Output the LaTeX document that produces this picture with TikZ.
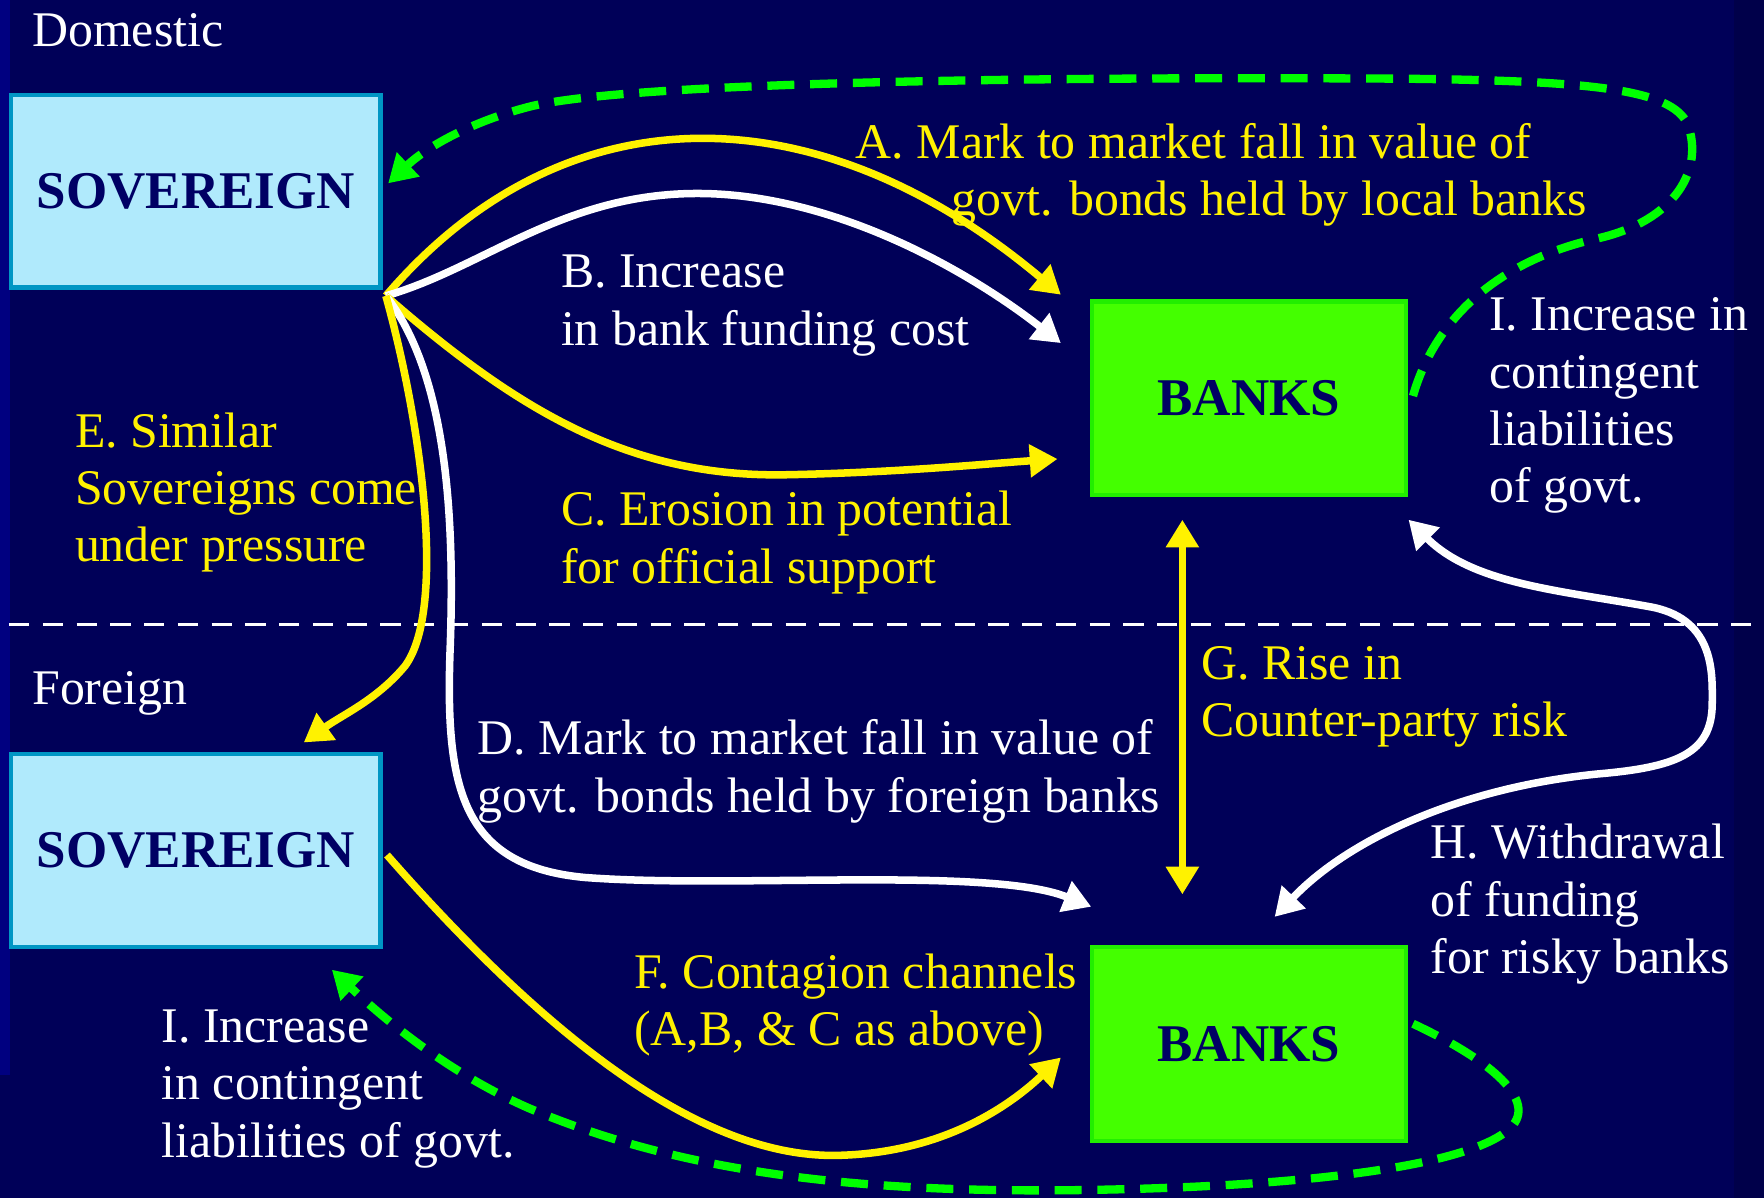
\documentclass[tikz,border=0pt]{standalone}
\usepackage{fontspec}
\setmainfont{Liberation Serif}
\usepackage{tikz}
\usetikzlibrary{arrows.meta}
\definecolor{slide}{RGB}{0,0,88}
\definecolor{slideleft}{RGB}{0,0,128}
\definecolor{slideright}{RGB}{0,0,74}
\definecolor{skyfill}{RGB}{176,234,252}
\definecolor{skyline}{RGB}{0,150,196}
\definecolor{grassfill}{RGB}{68,255,0}
\definecolor{grassline}{RGB}{34,238,0}
\definecolor{liability}{RGB}{0,255,0}
\definecolor{boxtext}{RGB}{0,0,100}
\colorlet{note}{yellow}
\tikzset{
  % node options
  box/.style={rectangle,draw,line width=1.1pt,text=boxtext,
    font=\fontsize{13.4}{15}\selectfont\bfseries},
  sovereign/.style={box,fill=skyfill,draw=skyline,minimum width=3.28cm,minimum height=1.71cm},
  banks/.style={box,fill=grassfill,draw=grassline,minimum width=2.79cm,minimum height=1.72cm},
  txt/.style={anchor=north west,inner sep=0,align=left,text=white,
    font=\fontsize{12.6}{14.5}\selectfont},
  txtNote/.style={txt,text=note},
  % path options
  tip/.style={-{Triangle[length=7pt,width=8pt]}},
  flow/.style={tip,line width=1.9pt},
  flowNote/.style={flow,draw=note},
  flowWhite/.style={flow,draw=white},
  flow bidi/.style={{Triangle[length=7pt,width=8pt]}-{Triangle[length=7pt,width=8pt]}},
  contingent/.style={tip,draw=liability,line width=2.1pt,dash pattern=on 0.24cm off 0.14cm},
  divider/.style={draw=white,line width=0.9pt,dash pattern=on 0.18cm off 0.12cm},
}
\newcommand{\SovereignDom}{\node[sovereign] (domestic sovereign) at (174,170) {SOVEREIGN};}
\newcommand{\BanksDom}{\node[banks] (domestic banks) at (1110,354) {BANKS};}
\newcommand{\SovereignFor}{\node[sovereign] (foreign sovereign) at (174,756) {SOVEREIGN};}
\newcommand{\BanksFor}{\node[banks] (foreign banks) at (1110,928) {BANKS};}
\newcommand{\channelA}{\draw[flowNote] (fan) .. controls (500,79) and (725,79) .. (tip A);}
\newcommand{\channelB}{\draw[flowWhite] (fan) .. controls (430,238) and (500,172) .. (620,172)
  .. controls (740,172) and (860,240) .. (tip B);}
\newcommand{\channelC}{\draw[flowNote] (fan) .. controls (460,365) and (560,425) .. (700,422)
  .. controls (800,420) and (880,412) .. (tip C);}

\begin{document}
\begin{tikzpicture}[x=0.01cm,y=-0.01cm]
  \fill[slide] (0,0) rectangle (1568,1065);
  \fill[slideright] (1541,0) rectangle (1568,1065);
  \fill[slideleft] (0,0) rectangle (9,956);
  \useasboundingbox (0,0) rectangle (1568,1065);

  \draw[divider] (8,555) -- (1560,555);

  \SovereignDom
  \BanksDom
  \SovereignFor
  \BanksFor

  \node[txt] (domestic) at (28,11) {Domestic};
  \node[txt] (foreign) at (28,596) {Foreign};
  \node[txtNote] (text A) at (760,109) {A. Mark to market fall in value of\\\hspace*{0.85cm}govt. bonds held by local banks};
  \node[txt] (text B) at (498,226) {B. Increase\\in bank funding cost};
  \node[txtNote] (text C) at (498,436) {C. Erosion in potential\\for official support};
  \node[txt] (text D) at (424,639) {D. Mark to market fall in value of\\govt. bonds held by foreign banks};
  \node[txtNote] (text E) at (66,366) {E. Similar\\Sovereigns come\\under pressure};
  \node[txtNote] (text F) at (563,847) {F. Contagion channels\\(A,B, \& C as above)};
  \node[txtNote] (text G) at (1067,574) {G. Rise in\\Counter-party risk};
  \node[txt] (text H) at (1271,732) {H. Withdrawal\\of funding\\for risky banks};
  \node[txt] (text I dom) at (1323,264) {I. Increase in\\contingent\\liabilities\\of govt.};
  \node[txt] (text I for) at (143,897) {I. Increase\\in contingent\\liabilities of govt.};

  \coordinate (fan) at (343,263);
  \coordinate (tip A) at (943,262);
  \coordinate (tip B) at (943,305);
  \coordinate (tip C) at (940,408);
  \coordinate (tip D) at (970,806);
  \coordinate (tip E) at (270,660);
  \coordinate (fan F) at (344,760);
  \coordinate (tip F) at (943,940);
  \coordinate (G top) at (1051,462);
  \coordinate (G bottom) at (1051,795);
  \coordinate (H top) at (1252,462);
  \coordinate (H bottom) at (1133,815);
  \coordinate (I dom) at (1256,352);
  \coordinate (I dom tip) at (345,163);
  \coordinate (I for) at (1256,910);
  \coordinate (I for tip) at (295,862);

  \draw[contingent] (I dom) .. controls (1275,285) and (1330,232) .. (1420,212)
    .. controls (1490,196) and (1515,150) .. (1500,110)
    .. controls (1485,80) and (1420,72) .. (1250,70)
    .. controls (950,68) and (560,72) .. (470,95)
    .. controls (420,108) and (380,130) .. (I dom tip);
  \draw[contingent] (I for) .. controls (1320,940) and (1365,975) .. (1345,1000)
    .. controls (1320,1030) and (1200,1055) .. (950,1058)
    .. controls (750,1060) and (600,1040) .. (470,985)
    .. controls (390,950) and (330,895) .. (I for tip);

  \channelA
  \channelB
  \channelC
  \draw[flowWhite] (fan) .. controls (395,330) and (405,450) .. (400,580)
    .. controls (396,700) and (410,770) .. (520,780)
    .. controls (650,790) and (880,770) .. (tip D);
  \draw[flowNote] (fan) .. controls (378,390) and (395,545) .. (360,592)
    .. controls (335,622) and (305,635) .. (tip E);
  \draw[flowNote] (fan F) .. controls (480,915) and (620,1030) .. (745,1027)
    .. controls (830,1025) and (890,990) .. (tip F);
  \draw[flowNote,flow bidi] (G top) -- (G bottom);
  \draw[flowWhite,flow bidi] (H top) .. controls (1310,520) and (1390,525) .. (1470,540)
    .. controls (1525,552) and (1522,600) .. (1522,625)
    .. controls (1522,670) and (1490,682) .. (1420,688)
    .. controls (1300,700) and (1200,745) .. (H bottom);
\end{tikzpicture}
\end{document}
